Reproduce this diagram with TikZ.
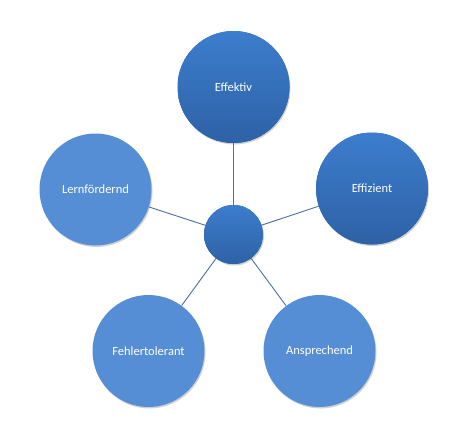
\documentclass[tikz,border=0pt]{standalone}
\usepackage{fontspec}
\setmainfont{Carlito}
\definecolor{darktop}{HTML}{3C7DCD}
\definecolor{darkbot}{HTML}{2E61A5}
\definecolor{lightfill}{HTML}{558ED5}
\definecolor{linkcol}{HTML}{4A6FA5}
\tikzset{
  softshadow/.style={preaction={fill=black, fill opacity=0.18,
    transform canvas={shift={(1pt,-1.5pt)}}}},
  gradfill/.style={fill=darkbot, path picture={
    \foreach \i [evaluate=\i as \p using {100-\i*2.5}] in {0,...,40}{
      \fill[darktop!\p!darkbot]
        ([yshift={-\i*#1pt}]path picture bounding box.north west) rectangle
        ([yshift={-(\i+1.2)*#1pt}]path picture bounding box.north east);
    }}},
  bubble/.style={circle, inner sep=0pt, minimum size=112pt, text=white,
    font=\fontsize{12.5}{14}\selectfont, softshadow},
  darkbubble/.style={bubble, gradfill=2.8},
  lightbubble/.style={bubble, fill=lightfill},
  hub/.style={circle, inner sep=0pt, minimum size=59pt, gradfill=1.475, softshadow},
  link/.style={draw=linkcol, line width=0.9pt}
}
\begin{document}
\begin{tikzpicture}[x=1pt, y=-1pt]
\useasboundingbox[fill=white] (0,0) rectangle (459,431);
\node[hub] (c) at (233.5,234.5) {};
\node[darkbubble] (eff) at (233.5,87) {Effektiv};
\node[darkbubble] (ezi) at (372,188.5) {Effizient};
\node[lightbubble] (ans) at (319.5,351) {Ansprechend};
\node[lightbubble] (feh) at (148.5,351) {Fehlertolerant};
\node[lightbubble] (ler) at (95.5,189.5) {Lernfördernd};
\draw[link] (c) -- (eff);
\draw[link] (c) -- (ezi);
\draw[link] (c) -- (ans);
\draw[link] (c) -- (feh);
\draw[link] (c) -- (ler);
\end{tikzpicture}
\end{document}
